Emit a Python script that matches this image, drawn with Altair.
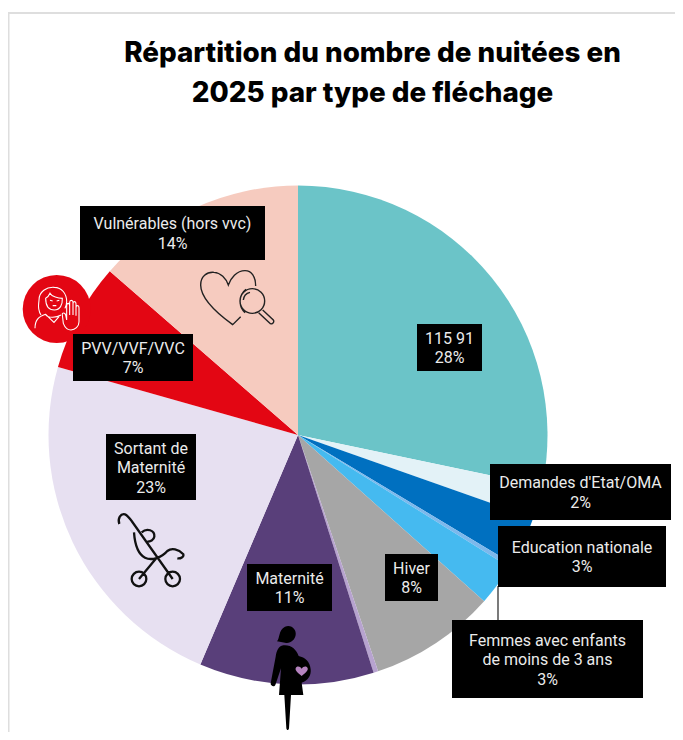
import altair as alt
import pandas as pd

# ---- data ----
categories = ["115 91", "Demandes d'Etat/OMA", "Education nationale", "Autre (bleu)",
              "Femmes avec enfants de moins de 3 ans", "Hiver", "Autre (mauve)",
              "Maternité", "Sortant de Maternité", "PVV/VVF/VVC", "Vulnérables (hors vvc)"]
values = [28.3, 2.1, 3.2, 0.3, 2.7, 8.2, 0.3, 11.3, 23.0, 7.0, 13.6]
slice_colors = ["#6BC4C8", "#E3F2F7", "#0070C0", "#7DB8EC", "#45BAF0", "#A6A6A6",
                "#B7A3CF", "#593F7A", "#E7E0F1", "#E30613", "#F6CBBF"]

title_lines = ["Répartition du nombre de nuitées en", "2025 par type de fléchage"]
label_lines = [
    ["115 91", "28%"],
    ["Demandes d'Etat/OMA", "2%"],
    ["Education nationale", "3%"],
    ["Femmes avec enfants", "de moins de 3 ans", "3%"],
    ["Hiver", "8%"],
    ["Maternité", "11%"],
    ["Sortant de", "Maternité", "23%"],
    ["PVV/VVF/VVC", "7%"],
    ["Vulnérables (hors vvc)", "14%"],
]

# ---- layout (page pixels: left, right, top, bottom) ----
box_positions = [
    (417, 482, 324, 371), (490, 671, 464, 520), (498, 666, 526, 587),
    (452, 643, 620, 698), (385, 438, 554, 601), (247, 332, 564, 611),
    (106, 196, 434, 500), (73, 193, 334, 381), (80, 265, 206, 260),
]
M = 8
CX, CY, R = 298, 435, 249.5
LH = 19.5
one = alt.Data(values=[{"i": 0}])


def px(v):
    return alt.value(v - M)


df = pd.DataFrame({"categorie": categories, "valeur": values, "ordre": range(len(values))})

pie = alt.Chart(df).mark_arc(radius=R).encode(
    theta=alt.Theta("valeur:Q", stack=True),
    order=alt.Order("ordre:Q"),
    color=alt.Color("categorie:N", scale=alt.Scale(domain=categories, range=slice_colors), legend=None),
    x=px(CX), y=px(CY),
)

layers = [pie]

# frame
frame_color = "#DEDEDE"
layers.append(alt.Chart(one).mark_rule(color=frame_color, strokeWidth=2).encode(
    x=px(8), x2=px(683), y=px(13)))
layers.append(alt.Chart(one).mark_rule(color=frame_color, strokeWidth=2).encode(
    x=px(8.5), y=px(12), y2=px(740)))

# title
layers.append(alt.Chart(one).mark_text(
    text=title_lines, font="Inter", fontSize=27.8, fontWeight=800, color="#000000",
    align="center", baseline="middle", lineHeight=39.5).encode(x=px(372.5), y=px(54)))


def icon(path, ox, oy, **kw):
    """Path written in 3x zoomed pixels around origin (ox, oy)."""
    return alt.Chart(one).mark_point(shape=path, size=4 / 9, opacity=1, **kw).encode(x=px(ox), y=px(oy))


# red disc + woman icon
layers.append(alt.Chart(one).mark_circle(size=68 ** 2, color="#E30613", opacity=1).encode(x=px(56.7), y=px(309)))
woman = (
    "M78,150 C65,130 72,115 72,105 C72,80 95,65 118,67 C140,68 155,85 155,110 C155,118 152,125 150,130 "
    "M92,100 C92,120 100,135 118,135 C135,135 143,120 142,100 C130,100 110,95 105,85 C102,92 98,97 92,100 Z "
    "M105,106 L113,108 M125,108 L133,106 M113,122 L124,122 "
    "M60,190 C60,165 70,155 92,148 L117,172 L132,155 M92,150 C100,160 125,158 138,150 "
    "M145,175 L142,150 C140,142 150,142 152,150 L155,165 L155,122 C155,113 164,113 164,122 L164,150 "
    "L164,112 C164,104 174,104 174,112 L174,150 L174,116 C174,108 183,108 183,116 L183,152 L183,128 "
    "C183,120 192,120 192,128 L192,170 C192,185 180,195 168,195 C155,195 150,188 145,175 Z"
)
layers.append(icon(woman, 15, 265, filled=False, stroke="white", strokeWidth=1.1))

# heart + magnifier
heart = (
    "M152,170 L128,194 C95,170 32,120 32,75 C32,50 50,35 72,37 C92,38 108,55 115,75 "
    "C122,55 140,32 165,32 C185,32 197,50 197,78 "
    "M150,123 A37,37 0 1 0 224,123 A37,37 0 1 0 150,123 Z "
    "M168,88 A46,46 0 0 0 165,158 M160,120 A26,26 0 0 1 180,97 "
    "M218,150 L250,180 A7,7 0 0 1 238,188 L206,158"
)
layers.append(icon(heart, 190, 260, filled=False, stroke="#222222", strokeWidth=1.4))

# stroller
stroller = (
    "M88,297 C82,280 92,265 105,268 C112,270 118,280 125,288 L248,462 "
    "M132,322 C134,350 140,385 165,398 C185,408 215,398 232,378 C245,368 265,372 280,388 C282,395 272,402 262,400 "
    "M155,322 C170,308 195,315 193,335 C192,345 180,350 172,350 "
    "M147,462 L200,398 "
    "M125,462 A22,22 0 1 0 169,462 A22,22 0 1 0 125,462 Z "
    "M226,462 A22,22 0 1 0 270,462 A22,22 0 1 0 226,462 Z"
)
layers.append(icon(stroller, 90, 425, filled=False, stroke="#111111", strokeWidth=2.3))

# pregnant woman
pregnant = (
    "M66,64 C75,55 70,30 90,20 C110,12 125,30 122,45 C120,60 105,72 90,68 Z "
    "M85,76 C70,78 64,95 62,110 L47,190 C46,198 58,202 61,195 L78,145 L72,225 L88,225 L94,325 "
    "C95,332 101,332 102,325 L108,225 L145,225 L140,188 C160,182 169,165 167,148 "
    "C165,125 150,112 131,108 C125,90 110,76 90,76 Z"
)
belly_heart = "M140,168 C128,158 120,152 122,145 C124,138 135,138 140,146 C145,138 156,138 158,145 C160,152 152,158 140,168 Z"
layers.append(icon(pregnant, 255, 620, filled=True, fill="#000000", strokeWidth=0))
layers.append(icon(belly_heart, 255, 620, filled=True, fill="#B583BF", strokeWidth=0))

# leader line
layers.append(alt.Chart(one).mark_rule(color="#222222", strokeWidth=1.2).encode(x=px(498), y=px(586), y2=px(621)))

# label boxes and texts
for lines, (l, r, t, b) in zip(label_lines, box_positions):
    layers.append(alt.Chart(one).mark_rect(color="#000000", opacity=1).encode(x=px(l), x2=px(r), y=px(t), y2=px(b)))
    first_line_y = (t + b) / 2 - (len(lines) - 1) * LH / 2 + 1.2
    layers.append(alt.Chart(one).mark_text(
        text=lines, font="Roboto", fontSize=16, color="#FFFFFF", opacity=0.92,
        align="center", baseline="middle", lineHeight=LH).encode(x=px((l + r) / 2), y=px(first_line_y)))

chart = alt.layer(*layers).properties(
    width=667, height=724, padding=0,
    autosize=alt.AutoSizeParams(type="none"),
    background="white",
).configure_view(stroke=None)

chart.save("out.html", embed_options={"renderer": "svg", "actions": False})
